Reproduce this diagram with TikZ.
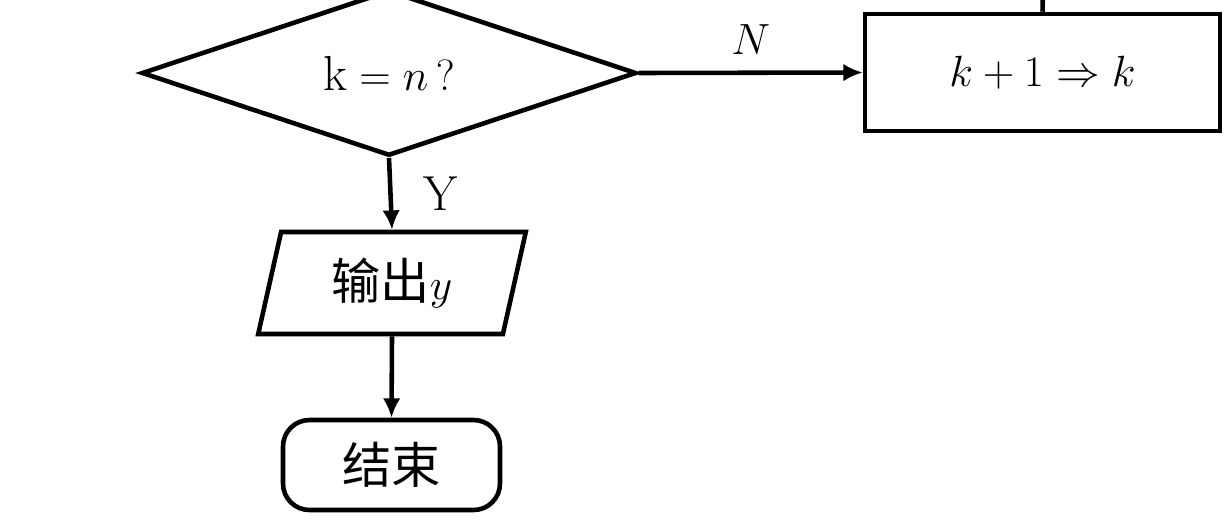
\documentclass[tikz,border=0pt]{standalone}
\usepackage{fontspec}
\newfontfamily\cjk{Noto Sans CJK SC}
\usetikzlibrary{shapes.geometric,arrows.meta}
\begin{document}
\begin{tikzpicture}[x=0.02cm,y=-0.02cm,
  every node/.style={font=\fontsize{28}{32}\selectfont},
  shapeline/.style={draw=black,line width=2.6pt},
  arr/.style={line width=2.6pt,-{Latex[length=11pt,width=10pt]}},
  plain/.style={line width=2.6pt}]
\useasboundingbox (0,0) rectangle (1224,525);
\node[shapeline,diamond,minimum width=9.9cm,minimum height=3.0cm,inner sep=0pt] (dec) at (389,73) {$\mathrm{k}=n\,?$};
\node[shapeline,rectangle,minimum width=7.1cm,minimum height=2.34cm,inner sep=0pt] (inc) at (1042.5,72.5) {$k+1\Rightarrow k$};
\node[shapeline,trapezium,trapezium left angle=76,trapezium right angle=104,trapezium stretches=true,minimum width=5.38cm,minimum height=2.04cm,inner sep=0pt] (out) at (392,283) {{\cjk 输出}$y$};
\node[shapeline,rectangle,rounded corners=15pt,minimum width=4.34cm,minimum height=1.8cm,inner sep=0pt] (end) at (391.5,465) {\cjk 结束};
\coordinate (top) at (1043,-10);
\draw[arr] (dec.east) -- node[above=6pt] {$N$} (inc.west);
\draw[arr] (dec.south) -- node[right=14pt] {Y} (out.north);
\draw[arr] (out.south) -- (end.north);
\draw[plain] (inc.north) -- (top);
\end{tikzpicture}
\end{document}
